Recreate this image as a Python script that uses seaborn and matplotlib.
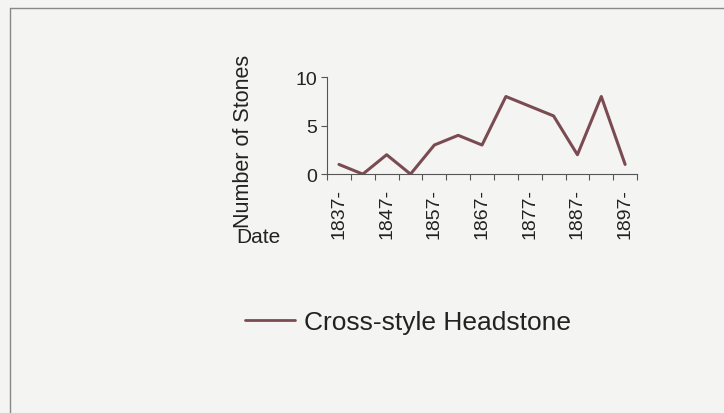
"""Cross-style headstones per five-year period."""
import numpy as np
import pandas as pd
import matplotlib
matplotlib.use('Agg')
import matplotlib.pyplot as plt
from matplotlib.lines import Line2D
import seaborn as sns

periods = ['1837-', '1842-', '1847-', '1852-', '1857-', '1862-', '1867-',
           '1872-', '1877-', '1882-', '1887-', '1892-', '1897-']
stones  = [1, 0, 2, 0, 3, 4, 3, 8, 7, 6, 2, 8, 1]
series_name = 'Cross-style Headstone'

sns.set_theme(style='white')
plt.rcParams['font.family'] = ['Liberation Sans', 'DejaVu Sans']

LINE_COLOR = '#7B4B52'
BG = '#f4f4f2'
TXT = '#222222'

df = pd.DataFrame({'period': periods, 'stones': stones})
df['pos'] = np.arange(len(df))

fig = plt.figure(figsize=(7.24, 4.14), dpi=100, facecolor=BG)
ax  = fig.add_axes([0.4517, 0.577, 0.4282, 0.2343])
ax.set_facecolor(BG)

sns.lineplot(data=df, x='pos', y='stones', color=LINE_COLOR,
             linewidth=2.2, ax=ax, legend=False)

n = len(periods)
ax.set_xlim(-0.5, n - 0.5)
ax.set_ylim(0, 10)
ax.set_yticks([0, 5, 10])
ax.tick_params(axis='y', labelsize=14, length=4, width=0.8, labelcolor=TXT,
               color='#555555', left=True, pad=3)

# category boundaries as tick marks, labels on every other category centre
ax.set_xticks(np.arange(-0.5, n, 1.0))
ax.set_xticklabels([])
ax.tick_params(axis='x', which='major', length=4, width=0.8,
               color='#555555', bottom=True)
ax.set_xticks(df['pos'][::2], minor=True)
ax.set_xticklabels(periods[::2], minor=True, rotation=90, fontsize=14,
                   color=TXT)
ax.tick_params(axis='x', which='minor', length=0, pad=10)

for s in ['top', 'right']:
    ax.spines[s].set_visible(False)
for s in ['left', 'bottom']:
    ax.spines[s].set_color('#555555')
    ax.spines[s].set_linewidth(0.8)

ax.set_xlabel('')
ax.set_ylabel('')
fig.text(0.337, 0.659, 'Number of Stones', rotation=90, fontsize=15.5,
         ha='center', va='center', color=TXT)
fig.text(0.326, 0.427, 'Date', fontsize=15, ha='left', va='center',
         color=TXT)

# legend below the plot
handle = Line2D([], [], color=LINE_COLOR, linewidth=2.0)
fig.legend([handle], [series_name], loc='center', frameon=False,
           bbox_to_anchor=(0.5635, 0.22), fontsize=19, handlelength=1.9,
           handletextpad=0.35, labelcolor=TXT)

# scanned page border
fig.add_artist(Line2D([0.014, 1.0], [0.978, 0.978], color='#888888',
                      linewidth=1.0, transform=fig.transFigure))
fig.add_artist(Line2D([0.014, 0.014], [0.0, 0.978], color='#888888',
                      linewidth=1.0, transform=fig.transFigure))

fig.savefig('out.png', dpi=100, facecolor=BG)
